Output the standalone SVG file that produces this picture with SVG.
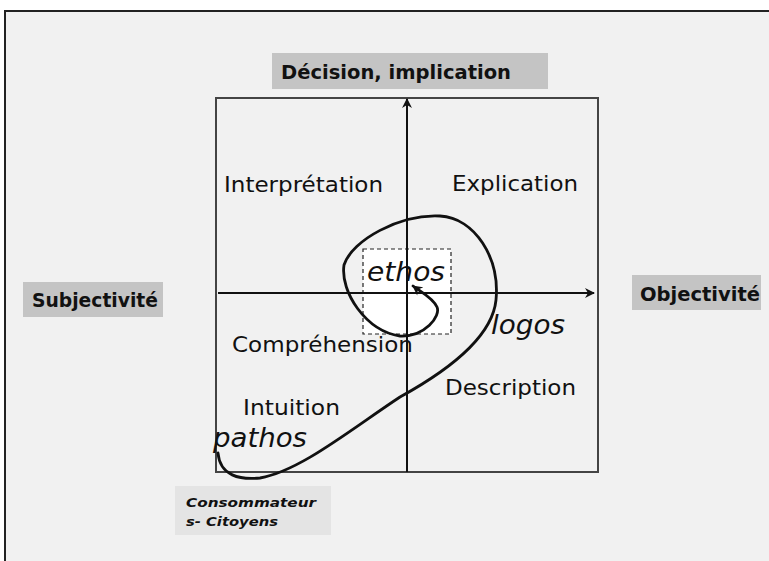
<svg xmlns="http://www.w3.org/2000/svg" width="769" height="561" viewBox="0 0 769 561">
<defs>
<style>
.q{font-family:"DejaVu Sans","Liberation Sans",sans-serif;font-size:21px;fill:#111}
.b{font-family:"DejaVu Sans","Liberation Sans",sans-serif;font-weight:bold;font-size:19px;fill:#111}
.it{font-family:"DejaVu Sans","Liberation Sans",sans-serif;font-style:italic;font-size:27px;fill:#111}
.c{font-family:"DejaVu Sans","Liberation Sans",sans-serif;font-style:italic;font-weight:bold;font-size:13px;fill:#111}
.lab{fill:#c4c4c4}
.ax{stroke:#111;stroke-width:2;fill:none}
</style>
<marker id="ah" viewBox="0 0 10 10" refX="9" refY="5" markerWidth="12" markerHeight="10" orient="auto" markerUnits="userSpaceOnUse">
<path d="M0,0 L10,5 L0,10 L3,5 Z" fill="#111"/>
</marker>
<marker id="ah2" viewBox="0 0 10 10" refX="9" refY="5" markerWidth="11" markerHeight="10" orient="auto" markerUnits="userSpaceOnUse">
<path d="M0,0 L10,5 L0,10 L3,5 Z" fill="#111"/>
</marker>
</defs>
<rect x="0" y="0" width="769" height="561" fill="#ffffff"/>
<rect x="5" y="11" width="780" height="570" fill="#f1f1f1" stroke="#222" stroke-width="2"/>

<g id="frame">
<rect x="216" y="98" width="382" height="374" fill="none" stroke="#444" stroke-width="2"/>
</g>

<g id="connectors">
<rect x="363" y="249" width="88" height="85" fill="#ffffff" stroke="#222" stroke-width="1.2" stroke-dasharray="4,3"/>
<line class="ax" x1="407" y1="472" x2="407" y2="99" marker-end="url(#ah)"/>
<line class="ax" x1="218" y1="293" x2="594" y2="293" marker-end="url(#ah)"/>
<path d="M218,453 C220,476 240,480 260,478 C300,471 350,430 400,397 C440,375 492,340 496,300 C500,258 475,218 440,216 C400,214 352,240 344,265 C340,292 366,331 400,336 C425,337 441,316 437,307 C433,298 421,292 413,286" fill="none" stroke="#111" stroke-width="2.8" stroke-linecap="round" marker-end="url(#ah2)"/>
</g>

<g id="top-label">
<rect class="lab" x="272" y="53" width="276" height="36"/>
<text class="b" x="281" y="79" textLength="230" lengthAdjust="spacingAndGlyphs">Décision, implication</text>
</g>
<g id="left-label">
<rect class="lab" x="23" y="282" width="140" height="35"/>
<text class="b" x="32" y="307" textLength="126" lengthAdjust="spacingAndGlyphs">Subjectivité</text>
</g>
<g id="right-label">
<rect class="lab" x="632" y="275" width="129" height="35"/>
<text class="b" x="640" y="301" textLength="120" lengthAdjust="spacingAndGlyphs">Objectivité</text>
</g>
<g id="bottom-label">
<rect x="175" y="486" width="156" height="49" fill="#e4e4e4"/>
<text class="c" x="186" y="507" textLength="130" lengthAdjust="spacingAndGlyphs">Consommateur</text>
<text class="c" x="186" y="526" textLength="92" lengthAdjust="spacingAndGlyphs">s- Citoyens</text>
</g>

<g id="interpretation"><text class="q" x="224" y="192" textLength="159" lengthAdjust="spacingAndGlyphs">Interprétation</text></g>
<g id="explication"><text class="q" x="452" y="191" textLength="126" lengthAdjust="spacingAndGlyphs">Explication</text></g>
<g id="comprehension"><text class="q" x="232" y="352" textLength="181" lengthAdjust="spacingAndGlyphs">Compréhension</text></g>
<g id="description"><text class="q" x="445" y="395" textLength="131" lengthAdjust="spacingAndGlyphs">Description</text></g>
<g id="intuition"><text class="q" x="243" y="415" textLength="97" lengthAdjust="spacingAndGlyphs">Intuition</text></g>
<g id="ethos"><text class="it" x="367" y="281" textLength="78" lengthAdjust="spacingAndGlyphs">ethos</text></g>
<g id="logos"><text class="it" x="491" y="334" textLength="74" lengthAdjust="spacingAndGlyphs">logos</text></g>
<g id="pathos"><text class="it" x="213" y="447" textLength="94" lengthAdjust="spacingAndGlyphs">pathos</text></g>
</svg>
